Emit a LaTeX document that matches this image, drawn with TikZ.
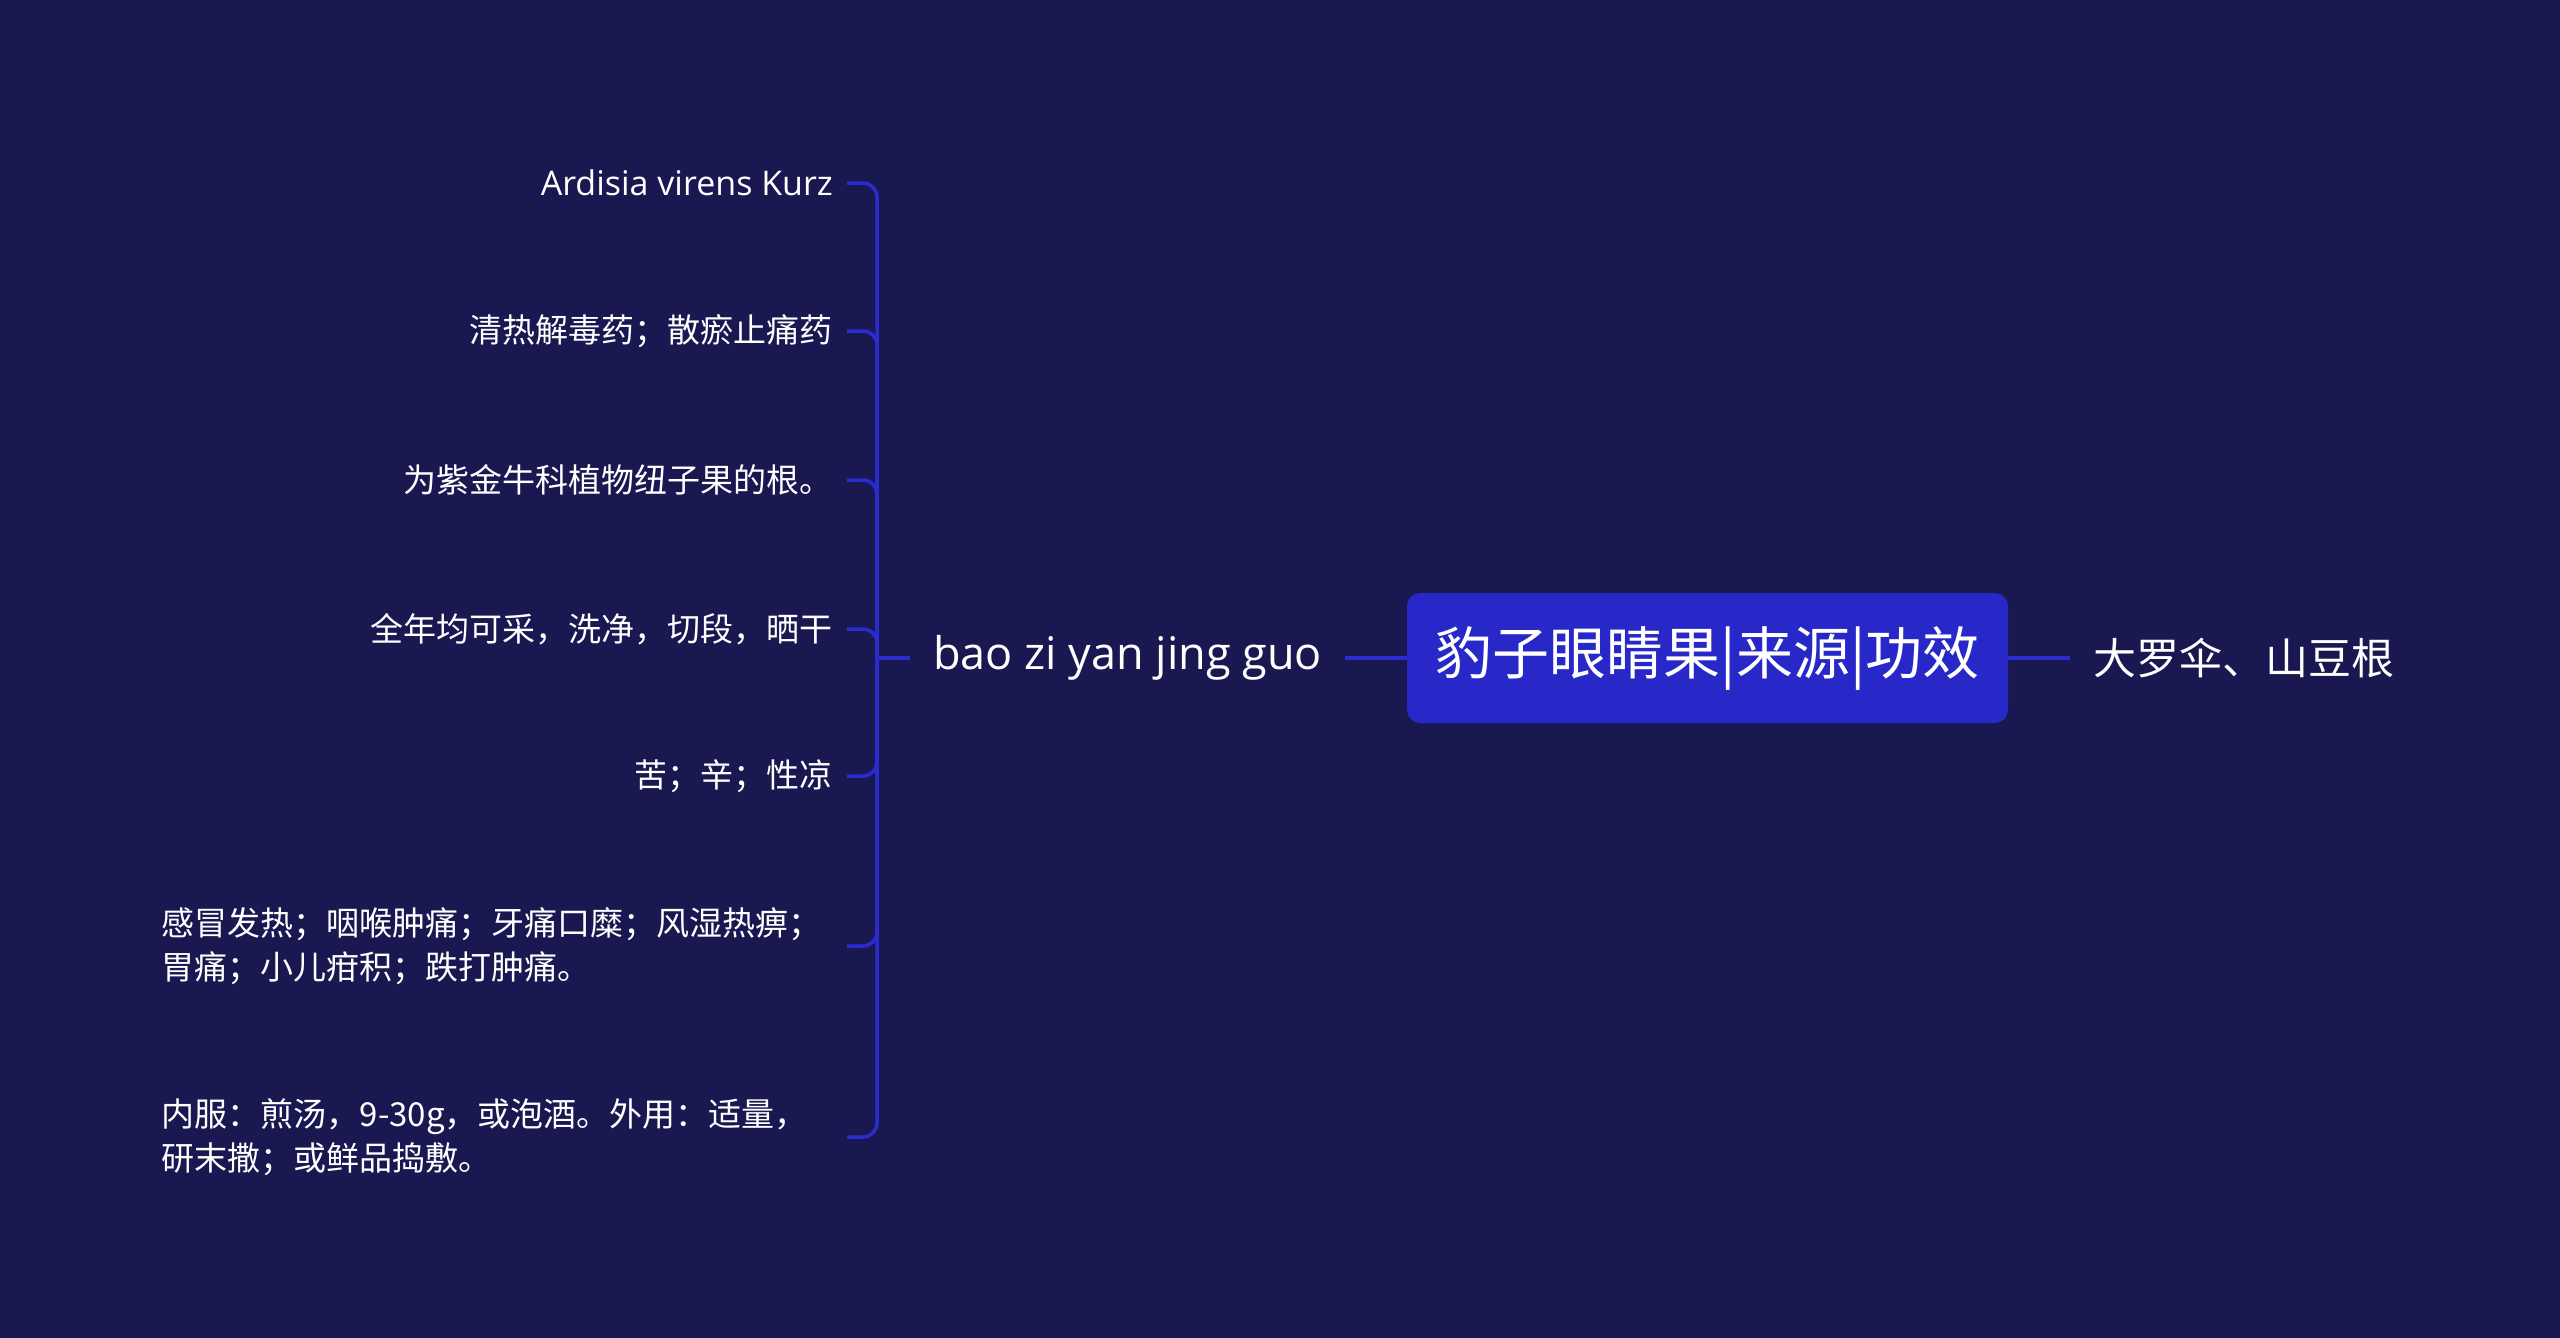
\documentclass[tikz,border=0pt]{standalone}
\usepackage{fontspec}
\setmainfont{Noto Sans CJK SC}
\newfontfamily\latinfont{Open Sans}
\definecolor{bgc}{RGB}{25,24,80}
\definecolor{boxc}{RGB}{40,40,200}
\definecolor{linec}{RGB}{42,44,208}
\tikzset{
  leaf/.style={anchor=east, inner xsep=14pt, inner ysep=0pt, text=white,
    font=\fontsize{33}{44}\selectfont},
  leafwide/.style={leaf, text width=671pt, align=left},
  conn/.style={draw=linec, line width=3.5pt, rounded corners=14pt},
  rootbox/.style={fill=boxc, rounded corners=13pt, minimum width=601pt,
    minimum height=130pt, inner sep=0pt, text=white,
    font=\fontsize{57}{64}\selectfont},
  sub/.style={text=white, inner xsep=23pt, inner ysep=0pt,
    font=\fontsize{43}{50}\selectfont}
}
\begin{document}
\begin{tikzpicture}[x=1pt,y=-1pt]
\fill[bgc] (0,0) rectangle (2560,1338);
\useasboundingbox (0,0) rectangle (2560,1338);

\node[rootbox] (root) at (1707.5,658) {豹子眼睛果|来源|功效};
\node[sub, anchor=east, font=\fontsize{45}{50}\latinfont] (pin) at (1345,658) {bao zi yan jing guo};
\node[sub, anchor=west] (alias) at (2070,658) {大罗伞、山豆根};
\coordinate (jn) at (877,658);

\node[leaf, font=\fontsize{34}{44}\latinfont] (l1) at (847,183) {Ardisia virens Kurz};
\node[leaf] (l2) at (847,331) {清热解毒药；散瘀止痛药};
\node[leaf] (l3) at (847,480) {为紫金牛科植物纽子果的根。};
\node[leaf] (l4) at (847,629) {全年均可采，洗净，切段，晒干};
\node[leaf] (l5) at (847,776) {苦；辛；性凉};
\node[leafwide] (l6) at (847,946) {感冒发热；咽喉肿痛；牙痛口糜；风湿热痹；\\胃痛；小儿疳积；跌打肿痛。};
\node[leafwide] (l7) at (847,1137) {内服：煎汤，9-30g，或泡酒。外用：适量，\\研末撒；或鲜品捣敷。};

\draw[conn] (root.west) -- (pin.east);
\draw[conn] (root.east) -- (alias.west);
\draw[conn] (pin.west) -- (jn);
\foreach \n in {l1,l2,l3,l4,l5,l6,l7}{
  \draw[conn] (\n.east) -| (jn);
}
\end{tikzpicture}
\end{document}
